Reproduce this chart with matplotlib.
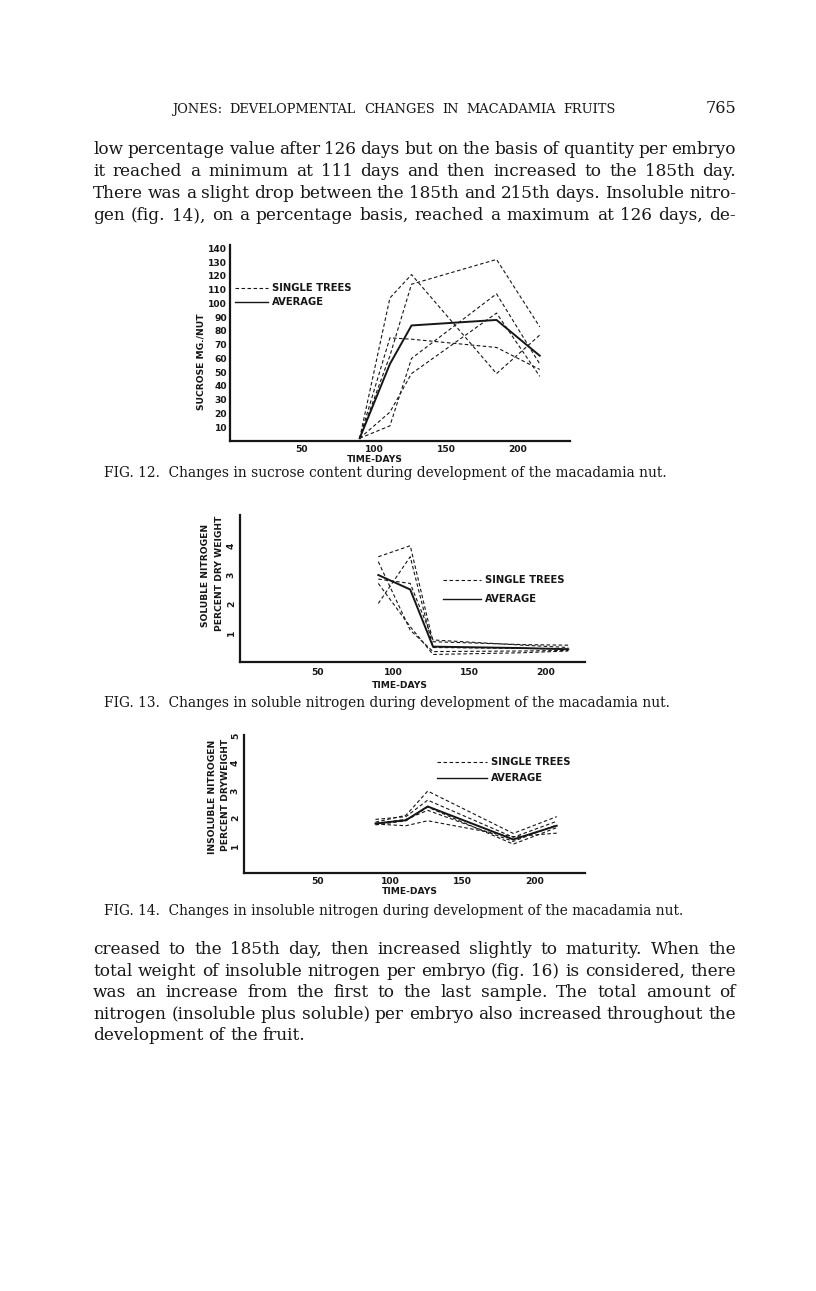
import matplotlib
matplotlib.use("Agg")
import matplotlib.pyplot as plt
from matplotlib.lines import Line2D

# sampling days (same for all three figures)
days = [90, 111, 126, 185, 215]

# fig. 12 - sucrose mg./nut
sucrose_trees = [
    [2, 104, 121, 49, 77],
    [2, 62, 114, 132, 83],
    [2, 75, 74, 68, 52],
    [2, 11, 60, 107, 56],
    [2, 21, 49, 93, 47],
]
sucrose_avg = [2, 56, 84, 88, 62]

# fig. 13 - soluble nitrogen, percent dry weight
soluble_trees = [
    [3.63, 4.01, 0.70, 0.60, 0.58],
    [2.02, 3.63, 0.50, 0.47, 0.45],
    [2.86, 2.71, 0.76, 0.58, 0.50],
    [2.71, 1.22, 0.26, 0.32, 0.38],
    [3.46, 1.10, 0.36, 0.38, 0.40],
]
soluble_avg = [3.00, 2.50, 0.53, 0.48, 0.44]

# fig. 14 - insoluble nitrogen, percent dry weight
insoluble_trees = [
    [1.85, 2.10, 2.98, 1.44, 2.05],
    [1.95, 2.05, 2.65, 1.30, 1.88],
    [1.78, 1.72, 1.90, 1.32, 1.45],
    [1.80, 1.95, 2.28, 1.15, 1.75],
    [1.75, 1.90, 2.40, 1.05, 1.65],
]
insoluble_avg = [1.80, 1.92, 2.42, 1.22, 1.72]

x_ticks = [50, 100, 150, 200]

header = "JONES: DEVELOPMENTAL CHANGES IN MACADAMIA FRUITS"
page_no = "765"
para1 = [
    "low percentage value after 126 days but on the basis of quantity per embryo",
    "it reached a minimum at 111 days and then increased to the 185th day.",
    "There was a slight drop between the 185th and 215th days.  Insoluble nitro-",
    "gen (fig. 14), on a percentage basis, reached a maximum at 126 days, de-",
]
para2 = [
    "creased to the 185th day, then increased slightly to maturity.  When the",
    "total weight of insoluble nitrogen per embryo (fig. 16) is considered, there",
    "was an increase from the first to the last sample.  The total amount of",
    "nitrogen (insoluble plus soluble) per embryo also increased throughout the",
    "development of the fruit.",
]
captions = [
    "FIG. 12.  Changes in sucrose content during development of the macadamia nut.",
    "FIG. 13.  Changes in soluble nitrogen during development of the macadamia nut.",
    "FIG. 14.  Changes in insoluble nitrogen during development of the macadamia nut.",
]

W, H = 816, 1291
INK = "#161616"
BODY = 12.2
fig = plt.figure(figsize=(W / 100, H / 100), dpi=100)
fig.patch.set_facecolor("white")
renderer = fig.canvas.get_renderer()


def ptext(x, y, s, **kw):
    kw.setdefault("color", INK)
    return fig.text(x / W, 1 - y / H, s, **kw)


def justify(line, x0, x1, y, last=False, **kw):
    words = line.split()
    arts = [ptext(x0, y, w, va="baseline", **kw) for w in words]
    widths = [a.get_window_extent(renderer).width for a in arts]
    if last or len(words) < 2:
        gap = arts[0].get_window_extent(renderer).height * 0.3
    else:
        gap = (x1 - x0 - sum(widths)) / (len(words) - 1)
    x = x0
    for a, w in zip(arts, widths):
        a.set_x(x / W)
        x += w + gap


def make_axes(l, r, t, b):
    ax = fig.add_axes([l / W, 1 - b / H, (r - l) / W, (b - t) / H])
    ax.patch.set_alpha(0)
    for s in ["top", "right"]:
        ax.spines[s].set_visible(False)
    for s in ["left", "bottom"]:
        ax.spines[s].set_linewidth(1.6)
        ax.spines[s].set_color(INK)
    ax.tick_params(length=0, colors=INK)
    return ax


def draw_series(ax, trees, avg):
    for tr in trees:
        ax.plot(days, tr, color=INK, lw=0.8, dashes=(3.2, 2.2))
    ax.plot(days, avg, color=INK, lw=1.4)


def legend(x0, x1, y1, y2, gap=4):
    fig.add_artist(Line2D([x0 / W, x1 / W], [1 - y1 / H] * 2, color=INK, lw=0.8, dashes=(3.2, 2.2)))
    fig.add_artist(Line2D([x0 / W, x1 / W], [1 - y2 / H] * 2, color=INK, lw=1.0))
    lab = dict(fontsize=7.2, fontweight="bold", va="center", family="DejaVu Sans")
    ptext(x1 + gap, y1, "SINGLE TREES", **lab)
    ptext(x1 + gap, y2, "AVERAGE", **lab)


small = dict(fontsize=6.6, fontweight="bold", family="DejaVu Sans")
cap = dict(va="baseline", fontsize=9.9, family="DejaVu Serif")

# header and first paragraph
justify(header, 172, 616, 113, fontsize=9.4, family="DejaVu Serif")
ptext(736, 113, page_no, ha="right", va="baseline", fontsize=11.5, family="DejaVu Serif")
for i, line in enumerate(para1):
    justify(line, 93, 736, 154 + i * 22, fontsize=BODY, family="DejaVu Serif")

# fig. 12
ax1 = make_axes(230, 570, 245, 441)
draw_series(ax1, sucrose_trees, sucrose_avg)
ax1.set_xlim(0, 236)
ax1.set_ylim(0, 142.5)
ax1.set_xticks(x_ticks)
ax1.set_xticklabels([str(v) for v in x_ticks], **small)
ax1.set_yticks(range(10, 141, 10))
ax1.set_yticklabels([str(v) for v in range(10, 141, 10)], **small)
ax1.tick_params(axis="y", pad=2)
ax1.tick_params(axis="x", pad=3)
ptext(201, 362, "SUCROSE MG./NUT", rotation=90, ha="center", va="center", **small)
ptext(375, 459, "TIME-DAYS", ha="center", va="center", **small)
legend(235, 268, 288, 302)
ptext(104, 477, captions[0], **cap)

# fig. 13
ax2 = make_axes(240, 585, 515, 662)
draw_series(ax2, soluble_trees, soluble_avg)
ax2.set_xlim(-1, 226)
ax2.set_ylim(0, 5.07)
ax2.set_xticks(x_ticks)
ax2.set_xticklabels([str(v) for v in x_ticks], **small)
ax2.set_yticks([1, 2, 3, 4])
ax2.set_yticklabels(["1", "2", "3", "4"], rotation=90, va="center", **small)
ax2.tick_params(axis="y", pad=3)
ax2.tick_params(axis="x", pad=4)
ptext(205, 575, "SOLUBLE NITROGEN", rotation=90, ha="center", va="center", **small)
ptext(219, 573, "PERCENT DRY WEIGHT", rotation=90, ha="center", va="center", **small)
ptext(400, 686, "TIME-DAYS", ha="center", va="center", **small)
legend(443, 481, 580, 599)
ptext(104, 707, captions[1], **cap)

# fig. 14
ax3 = make_axes(244, 585, 735, 873)
draw_series(ax3, insoluble_trees, insoluble_avg)
ax3.set_xlim(-0.7, 234.5)
ax3.set_ylim(0, 5.02)
ax3.set_xticks(x_ticks)
ax3.set_xticklabels([str(v) for v in x_ticks], **small)
ax3.set_yticks([1, 2, 3, 4, 5])
ax3.set_yticklabels(["1", "2", "3", "4", "5"], rotation=90, va="center", **small)
ax3.tick_params(axis="y", pad=3)
ax3.tick_params(axis="x", pad=3)
ptext(212, 797, "INSOLUBLE NITROGEN", rotation=90, ha="center", va="center", **small)
ptext(226, 795, "PERCENT DRYWEIGHT", rotation=90, ha="center", va="center", **small)
ptext(410, 891, "TIME-DAYS", ha="center", va="center", **small)
legend(437, 487, 762, 778)
ptext(104, 915, captions[2], **cap)

# second paragraph
for i, line in enumerate(para2):
    justify(line, 93, 736, 954 + i * 21.6, last=(i == len(para2) - 1),
            fontsize=BODY, family="DejaVu Serif")

fig.savefig("out.png", dpi=100)
